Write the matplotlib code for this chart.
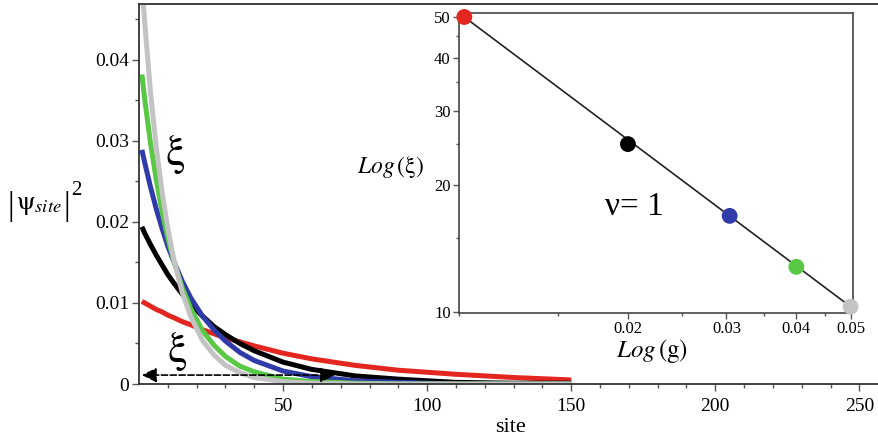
import matplotlib
matplotlib.use('Agg')
import matplotlib.pyplot as plt
from matplotlib.ticker import FixedLocator, NullFormatter, FuncFormatter

plt.rcParams['font.family'] = ['Liberation Serif', 'DejaVu Serif']
plt.rcParams['mathtext.fontset'] = 'stix'

sites = [1, 2, 4, 6, 8, 10, 12, 15, 18, 22, 26, 30, 35, 40, 50, 60, 75, 90, 110, 130, 150]

red_vals = [0.0102, 0.0100, 0.0096, 0.0092, 0.0089, 0.0085, 0.0082, 0.0077, 0.0073, 0.0067,
            0.0062, 0.0057, 0.0052, 0.0047, 0.0038, 0.0031, 0.0023, 0.0017, 0.0012, 0.0008, 0.0005]
black_vals = [0.0194, 0.0186, 0.0172, 0.0159, 0.0147, 0.0135, 0.0125, 0.0111, 0.0098, 0.0084,
              0.0071, 0.0061, 0.0050, 0.0041, 0.0027, 0.0018, 0.0010, 0.0006, 0.0002, 0.0001, 0.0001]
blue_vals = [0.0289, 0.0273, 0.0243, 0.0216, 0.0192, 0.0170, 0.0152, 0.0127, 0.0106, 0.0084,
             0.0067, 0.0053, 0.0039, 0.0029, 0.0016, 0.0009, 0.0004, 0.0002, 0.0, 0.0, 0.0]
green_vals = [0.0382, 0.0351, 0.0297, 0.0252, 0.0213, 0.0180, 0.0153, 0.0119, 0.0093, 0.0066,
              0.0048, 0.0034, 0.0022, 0.0015, 0.0006, 0.0003, 0.0001, 0.0, 0.0, 0.0, 0.0]
gray_vals = [0.0494, 0.0445, 0.0360, 0.0292, 0.0237, 0.0192, 0.0155, 0.0113, 0.0083, 0.0054,
             0.0036, 0.0023, 0.0014, 0.0008, 0.0003, 0.0001, 0.0, 0.0, 0.0, 0.0, 0.0]

# inset: localisation length vs coupling
g_vals = [0.0102, 0.02, 0.0304, 0.04, 0.05]
xi_vals = [50, 25, 16.9, 12.8, 10.3]
fit_g = [0.0102, 0.05]
fit_xi = [50, 10.3]

c_red = '#e3261f'
c_black = '#000000'
c_blue = '#2f3ba8'
c_green = '#58c845'
c_gray = '#c3c3c3'

fig = plt.figure(figsize=(8.79, 4.40), dpi=100)
ax = fig.add_axes([139 / 879, 56 / 440, 742 / 879, 380 / 440])

lw = 3.6
for vals, col in [(red_vals, c_red), (black_vals, c_black), (blue_vals, c_blue),
                  (green_vals, c_green), (gray_vals, c_gray)]:
    ax.plot(sites, vals, color=col, lw=lw, solid_capstyle='butt', clip_on=True)

ax.set_xlim(0, 257.5)
ax.set_ylim(0, 0.0469)
ax.xaxis.set_major_locator(FixedLocator([50, 100, 150, 200, 250]))
ax.xaxis.set_minor_locator(FixedLocator([10, 20, 30, 40, 60, 70, 80, 90, 110, 120, 130, 140,
                                         160, 170, 180, 190, 210, 220, 230, 240]))
ax.yaxis.set_major_locator(FixedLocator([0, 0.01, 0.02, 0.03, 0.04]))
ax.yaxis.set_minor_locator(FixedLocator([0.005, 0.015, 0.025, 0.035, 0.045]))
ax.yaxis.set_major_formatter(FuncFormatter(lambda v, p: '0' if v == 0 else '%.2f' % v))
ax.tick_params(which='major', length=5, width=1, color='#555555', labelsize=14, pad=2)
ax.tick_params(which='minor', length=3, width=1, color='#555555')
ax.tick_params(axis='x', which='major', pad=5)
ax.spines['right'].set_visible(False)
for s in ['left', 'bottom', 'top']:
    ax.spines[s].set_color('#333333')
    ax.spines[s].set_linewidth(1.3)

ax.annotate('', xy=(68, 0.0011), xytext=(1, 0.0011),
            arrowprops=dict(arrowstyle='<|-|>', ls='--', color='k', lw=1.2,
                            mutation_scale=22, shrinkA=0, shrinkB=0))
ax.text(12.5, 0.0283, r'$\mathrm{\xi}$', fontsize=32, ha='center', va='center')
ax.text(13.2, 0.0040, r'$\mathrm{\xi}$', fontsize=32, ha='center', va='center')

ax.set_xlabel('site', fontsize=16, labelpad=2)

# y label |psi_site|^2 built from pieces so the bars can be tall
fig.text(11 / 879, 1 - 206 / 440, '|', fontsize=24, ha='center', va='center')
fig.text(16 / 879, 1 - 206 / 440, r'$\mathrm{\psi}_{site}$', fontsize=19,
         ha='left', va='center')
fig.text(67 / 879, 1 - 206 / 440, '|', fontsize=24, ha='center', va='center')
fig.text(71 / 879, 1 - 190 / 440, '2', fontsize=15, ha='left', va='center')

# inset
axi = fig.add_axes([459 / 879, 127 / 440, 394 / 879, 300 / 440])
axi.set_xscale('log')
axi.set_yscale('log')
axi.plot(fit_g, fit_xi, color='#222222', lw=1.2, zorder=2)
axi.scatter(g_vals, xi_vals, s=130, c=[c_red, c_black, c_blue, c_green, c_gray],
            zorder=3, clip_on=False, edgecolors='none')
axi.set_xlim(0.00998, 0.0505)
axi.set_ylim(9.95, 51.1)
axi.xaxis.set_major_locator(FixedLocator([0.02, 0.03, 0.04, 0.05]))
axi.xaxis.set_minor_locator(FixedLocator([0.01, 0.015, 0.025, 0.035, 0.045]))
axi.xaxis.set_major_formatter(FuncFormatter(lambda v, p: '%.2f' % v))
axi.xaxis.set_minor_formatter(NullFormatter())
axi.yaxis.set_major_locator(FixedLocator([10, 20, 30, 40, 50]))
axi.yaxis.set_minor_locator(FixedLocator([15, 25, 35, 45]))
axi.yaxis.set_major_formatter(FuncFormatter(lambda v, p: '%d' % v))
axi.yaxis.set_minor_formatter(NullFormatter())
axi.tick_params(which='major', length=4, width=1, color='#555555', labelsize=12, pad=2)
axi.tick_params(which='minor', length=2.5, width=1, color='#555555')
for s in axi.spines.values():
    s.set_color('#444444')
    s.set_linewidth(1.2)

axi.text(-0.175, 0.487, r'$Log\,(\mathrm{\xi})$', transform=axi.transAxes,
         fontsize=17, ha='center', va='center')
axi.text(0.49, -0.125, r'$Log\,(\mathrm{g})$', transform=axi.transAxes,
         fontsize=18, ha='center', va='center')
axi.text(0.444, 0.353, 'ν= 1', transform=axi.transAxes, fontsize=24,
         ha='center', va='center')

fig.savefig('out.png', dpi=100)
